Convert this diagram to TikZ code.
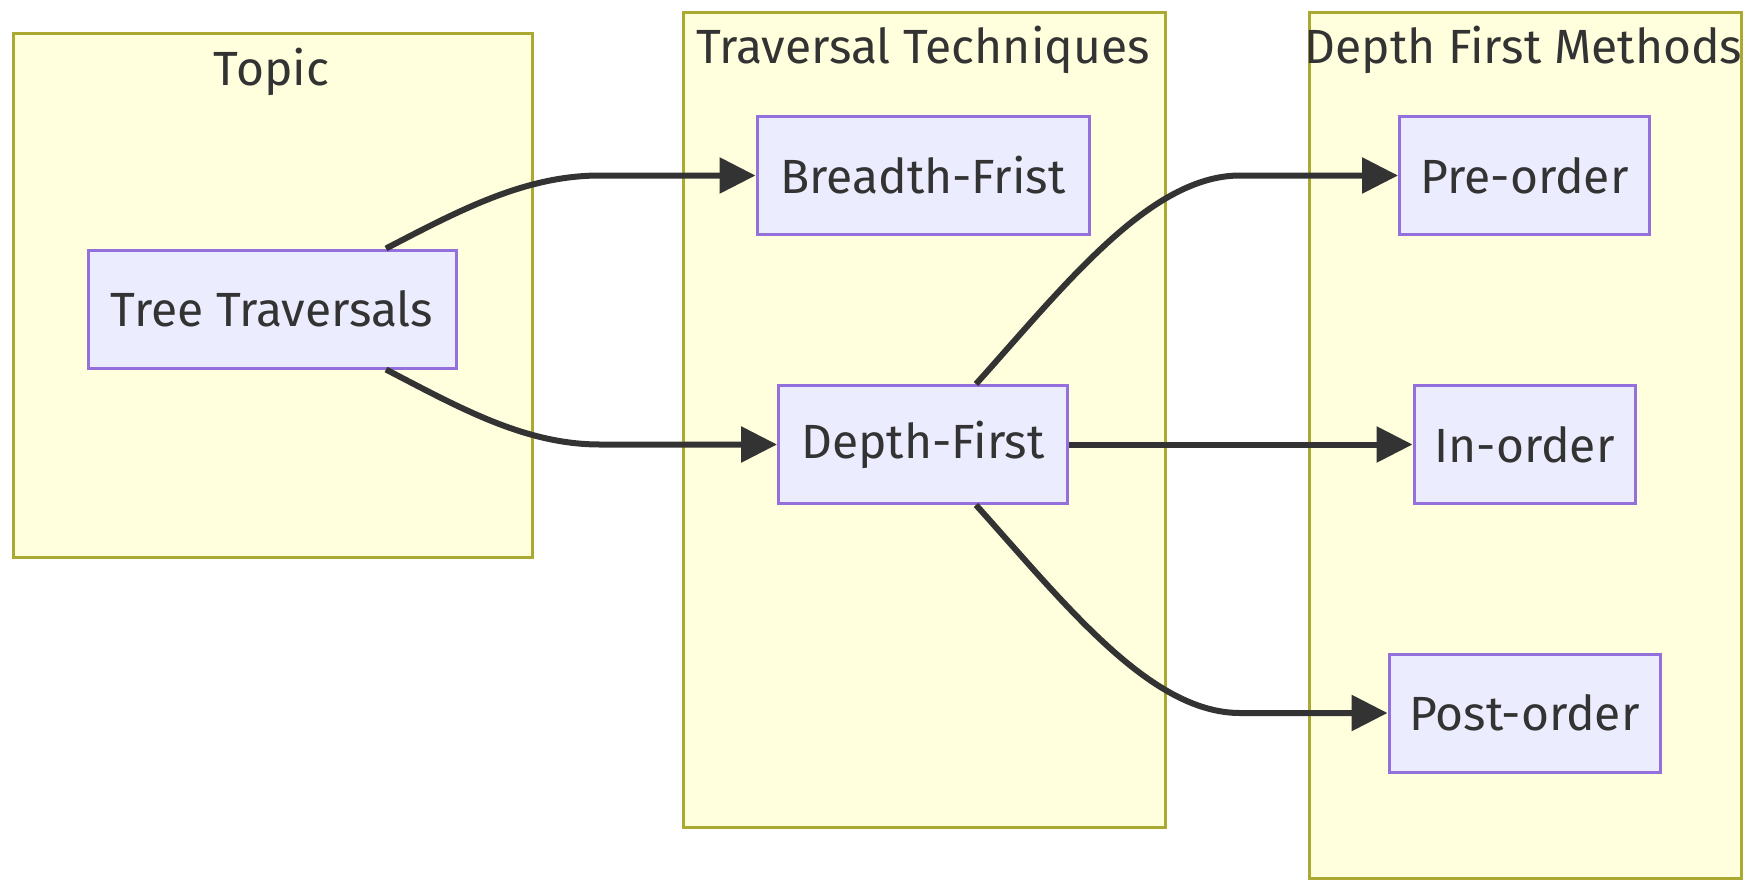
\documentclass[tikz,border=0pt]{standalone}
\usepackage{fontspec}
\setmainfont{Fira Sans}
\usetikzlibrary{arrows.meta}
\definecolor{nodefill}{HTML}{ECECFF}
\definecolor{nodeline}{HTML}{9370DB}
\definecolor{clusterfill}{HTML}{FFFFDE}
\definecolor{clusterline}{HTML}{AAAA33}
\definecolor{ink}{HTML}{333333}
\begin{document}
\begin{tikzpicture}[x=1pt,y=-1pt,
  cluster/.style={draw=clusterline,fill=clusterfill,line width=3pt,inner sep=0pt,anchor=north west},
  clabel/.style={text=ink,font=\fontsize{48}{56}\selectfont,inner sep=0pt},
  box/.style={draw=nodeline,fill=nodefill,line width=3pt,text=ink,font=\fontsize{48}{56}\selectfont,inner sep=0pt},
  edge/.style={draw=ink,line width=6pt,-{Triangle[length=36pt,width=35pt]}}]
\useasboundingbox (0,0) rectangle (1753,889);
\fill[white] (0,0) rectangle (1753,889);
% clusters
\node[cluster,minimum width=519pt,minimum height=524pt] (ctopic) at (12,32) {};
\node[cluster,minimum width=482pt,minimum height=815pt] (ctech) at (682,11) {};
\node[cluster,minimum width=432pt,minimum height=866pt] (cdfm) at (1308,11) {};
\node[clabel] (ltopic) at (271.5,72) {Topic};
\node[clabel] (ltech) at (923,50) {Traversal Techniques};
\node[clabel] (ldfm) at (1523.5,50) {Depth First Methods};
% nodes
\node[box,minimum width=368pt,minimum height=118pt] (tt) at (272,309) {Tree Traversals};
\node[box,minimum width=332pt,minimum height=118pt] (bf) at (923,175.5) {Breadth-Frist};
\node[box,minimum width=289pt,minimum height=118pt] (df) at (923,444.5) {Depth-First};
\node[box,minimum width=250pt,minimum height=118pt] (pre) at (1524.5,175.5) {Pre-order};
\node[box,minimum width=221pt,minimum height=118pt] (in) at (1524.5,444.5) {In-order};
\node[box,minimum width=271pt,minimum height=118pt] (post) at (1524.5,713) {Post-order};
% edges
\draw[edge] ([xshift=114pt]tt.north) .. controls (460,210) and (525,175.5) .. (600,175.5) -- (bf.west);
\draw[edge] ([xshift=114pt]tt.south) .. controls (460,408) and (525,444.5) .. (600,444.5) -- (df.west);
\draw[edge] ([xshift=53pt]df.north) .. controls (1065,285) and (1150,175.5) .. (1240,175.5) -- (pre.west);
\draw[edge] (df.east) -- (in.west);
\draw[edge] ([xshift=53pt]df.south) .. controls (1065,604) and (1150,713) .. (1240,713) -- (post.west);
\end{tikzpicture}
\end{document}
